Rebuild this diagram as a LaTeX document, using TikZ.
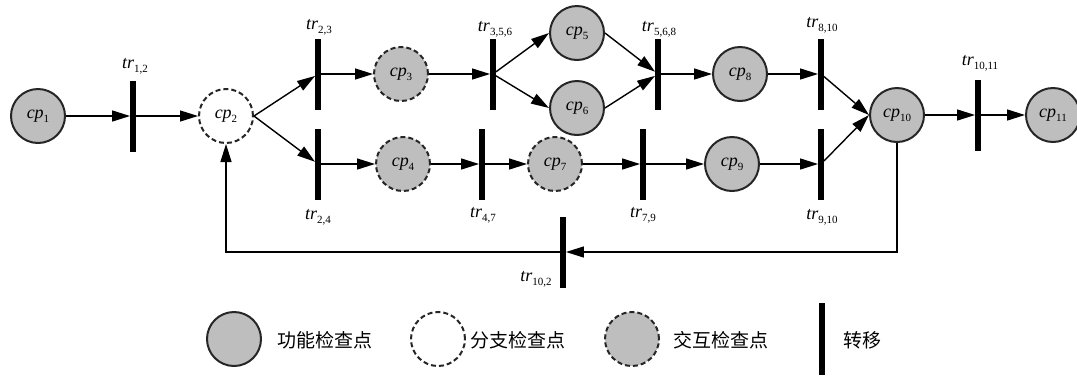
\documentclass[tikz,border=0pt]{standalone}
\usepackage{fontspec}
\setmainfont{Liberation Serif}
\newfontfamily\cjk{Noto Sans CJK SC}
\usetikzlibrary{arrows.meta}
\definecolor{pgray}{RGB}{190,190,190}
\newcommand{\pnm}[2]{\textit{#1}\raisebox{-0.5ex}{\fontsize{11}{11}\selectfont #2}}
\begin{document}
\begin{tikzpicture}[x=1pt,y=-1pt,
  place/.style={circle,draw=black!85,line width=2pt,minimum size=54pt,inner sep=0pt,font=\fontsize{18}{18}\selectfont},
  func/.style={place,fill=pgray},
  branch/.style={place,fill=white,dash pattern=on 5pt off 3pt},
  inter/.style={place,fill=pgray,dash pattern=on 5pt off 3pt},
  trans/.style={rectangle,fill=black,minimum width=5.5pt,minimum height=71pt,inner sep=0pt},
  tlab/.style={font=\fontsize{18}{18}\selectfont,inner sep=1pt},
  arr/.style={line width=1.4pt,-{Triangle[length=18pt,width=11pt]}},
  leg/.style={font=\cjk\fontsize{19}{19}\selectfont,anchor=west,inner sep=0pt}
]
\useasboundingbox (0,0) rectangle (1077,376);

% places
\node[func]   (cp1)  at (38,116)  {\pnm{cp}{1}};
\node[branch] (cp2)  at (226,116) {\pnm{cp}{2}};
\node[inter]  (cp3)  at (401,74)  {\pnm{cp}{3}};
\node[inter]  (cp4)  at (403,164) {\pnm{cp}{4}};
\node[func]   (cp5)  at (577,33)  {\pnm{cp}{5}};
\node[func]   (cp6)  at (577,108) {\pnm{cp}{6}};
\node[inter]  (cp7)  at (555,164) {\pnm{cp}{7}};
\node[func]   (cp8)  at (740,74)  {\pnm{cp}{8}};
\node[func]   (cp9)  at (732,164) {\pnm{cp}{9}};
\node[func]   (cp10) at (897,115) {\pnm{cp}{10}};
\node[func]   (cp11) at (1053,115) {\pnm{cp}{11}};

% transitions
\node[trans] (t12)   at (133,116) {};
\node[trans] (t23)   at (318,74)  {};
\node[trans] (t24)   at (318,164) {};
\node[trans] (t356)  at (493,74)  {};
\node[trans] (t568)  at (658,74)  {};
\node[trans] (t810)  at (821,74)  {};
\node[trans] (t47)   at (482,164) {};
\node[trans] (t79)   at (643,164) {};
\node[trans] (t910)  at (821,164) {};
\node[trans] (t1011) at (978,115) {};
\node[trans] (t102)  at (563,252) {};

% transition labels
\node[tlab] (l12)   at (135,66)  {\pnm{tr}{1,2}};
\node[tlab] (l23)   at (319,27)  {\pnm{tr}{2,3}};
\node[tlab] (l24)   at (318,217) {\pnm{tr}{2,4}};
\node[tlab] (l356)  at (495,29)  {\pnm{tr}{3,5,6}};
\node[tlab] (l568)  at (659,29)  {\pnm{tr}{5,6,8}};
\node[tlab] (l810)  at (822,25)  {\pnm{tr}{8,10}};
\node[tlab] (l47)   at (483,215) {\pnm{tr}{4,7}};
\node[tlab] (l79)   at (643,215) {\pnm{tr}{7,9}};
\node[tlab] (l910)  at (822,217) {\pnm{tr}{9,10}};
\node[tlab] (l1011) at (980,63)  {\pnm{tr}{10,11}};
\node[tlab] (l102)  at (536,279) {\pnm{tr}{10,2}};

% arcs
\draw[arr] (cp1) -- (t12);
\draw[arr] (t12) -- (cp2);
\draw[arr] (cp2.east) -- (t23);
\draw[arr] (cp2.east) -- (t24);
\draw[arr] (t23) -- (cp3);
\draw[arr] (t24) -- (cp4);
\draw[arr] (cp3) -- (t356);
\draw[arr] (t356) -- (cp5.west);
\draw[arr] (t356) -- (cp6.west);
\draw[arr] (cp5.east) -- (t568);
\draw[arr] (cp6.east) -- (t568);
\draw[arr] (t568) -- (cp8);
\draw[arr] (cp8) -- (t810);
\draw[arr] (cp4) -- (t47);
\draw[arr] (t47) -- (cp7);
\draw[arr] (cp7) -- (t79);
\draw[arr] (t79) -- (cp9);
\draw[arr] (cp9) -- (t910);
\draw[arr] (t810) -- (cp10.west);
\draw[arr] (t910) -- (cp10.west);
\draw[arr] (cp10) -- (t1011);
\draw[arr] (t1011) -- (cp11);
\draw[arr] (cp10) |- (t102);
\draw[arr] (t102) -| (cp2);

% legend
\node[func]   (lg1) at (234,339) {};
\node[leg]    (lt1) at (277,340) {功能检查点};
\node[branch] (lg2) at (438,339) {};
\node[leg]    (lt2) at (470,340) {分支检查点};
\node[inter]  (lg3) at (632,339) {};
\node[leg]    (lt3) at (673,340) {交互检查点};
\node[trans,minimum height=72pt] (lg4) at (822,339) {};
\node[leg]    (lt4) at (843,340) {转移};
\end{tikzpicture}
\end{document}
